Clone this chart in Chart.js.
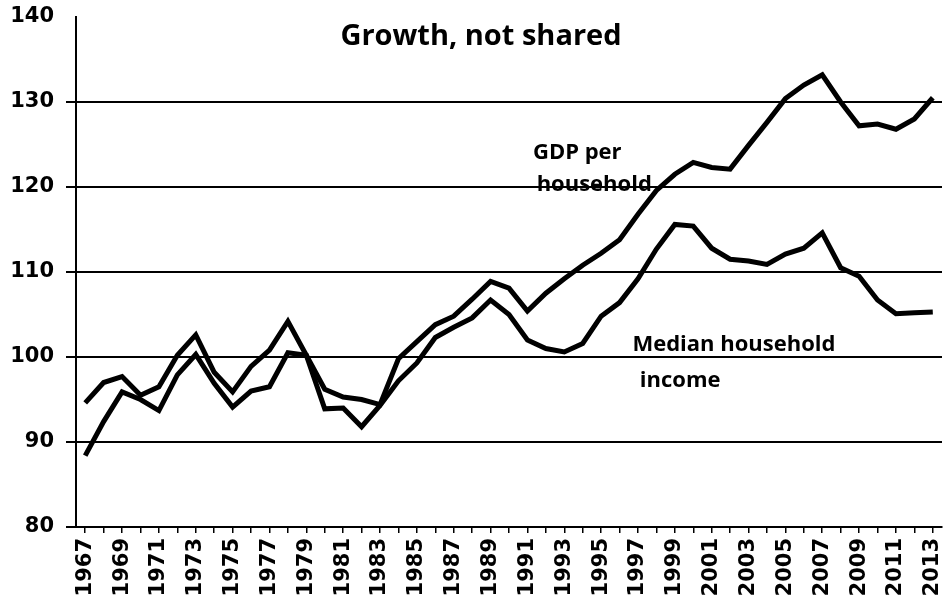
<!DOCTYPE html>
<html>
<head>
<meta charset="utf-8">
<script src="https://cdn.jsdelivr.net/npm/chart.js@4"></script>
<style>
  html, body { margin: 0; padding: 0; background: #ffffff; overflow: hidden; }
  #wrap { position: absolute; left: 0; top: 0; width: 943px; height: 606px; }
</style>
</head>
<body>
<div id="wrap"><canvas id="c" width="943" height="606"></canvas></div>
<script>
const years = [];
for (let y = 1967; y <= 2013; y++) years.push(String(y));

const gdpPerHousehold = [
  94.6, 97.0, 97.7, 95.5, 96.5, 100.2, 102.6, 98.2, 95.9, 98.9,
  100.8, 104.2, 100.2, 96.2, 95.3, 95.0, 94.4, 99.8, 101.8, 103.8,
  104.8, 106.8, 108.9, 108.1, 105.4, 107.5, 109.2, 110.8, 112.2, 113.8,
  116.8, 119.6, 121.5, 122.9, 122.3, 122.1, 124.9, 127.6, 130.4, 132.0,
  133.2, 130.0, 127.2, 127.4, 126.8, 128.0, 130.5
];

const medianHouseholdIncome = [
  88.4, 92.4, 95.9, 95.0, 93.7, 97.9, 100.3, 96.9, 94.1, 96.0,
  96.5, 100.5, 100.2, 93.9, 94.0, 91.8, 94.3, 97.2, 99.3, 102.3,
  103.5, 104.6, 106.7, 105.0, 102.0, 101.0, 100.6, 101.6, 104.8, 106.4,
  109.2, 112.7, 115.6, 115.4, 112.8, 111.5, 111.3, 110.9, 112.1, 112.8,
  114.6, 110.5, 109.5, 106.7, 105.1, 105.2, 105.3
];

const yTicks = [80, 90, 100, 110, 120, 130, 140];
const titleText = "Growth, not shared";
const gdpLabel = ["GDP per", "household"];
const medianLabel = ["Median household", "income"];

const textPlugin = {
  id: 'texts',
  afterDraw(chart) {
    const ctx = chart.ctx;
    const xs = chart.scales.x, ys = chart.scales.y;
    ctx.save();
    ctx.fillStyle = '#000';
    ctx.textBaseline = 'middle';
    ctx.textAlign = 'center';
    ctx.font = 'bold 29px "Open Sans"';
    ctx.fillText(titleText, 481, 37);
    ctx.textAlign = 'left';
    ctx.font = 'bold 22px "Open Sans"';
    ctx.fillText(gdpLabel[0], xs.getPixelForValue(24.3), ys.getPixelForValue(124.0));
    ctx.fillText(gdpLabel[1], xs.getPixelForValue(24.5), ys.getPixelForValue(120.3));
    ctx.fillText(medianLabel[0], xs.getPixelForValue(29.7), ys.getPixelForValue(101.4));
    ctx.fillText(medianLabel[1], xs.getPixelForValue(30.1), ys.getPixelForValue(97.2));
    ctx.restore();
  }
};

new Chart(document.getElementById('c'), {
  type: 'line',
  data: {
    labels: years,
    datasets: [
      { label: 'GDP per household', data: gdpPerHousehold, borderColor: '#000', borderWidth: 5, pointRadius: 0, tension: 0, fill: false },
      { label: 'Median household income', data: medianHouseholdIncome, borderColor: '#000', borderWidth: 5, pointRadius: 0, tension: 0, fill: false }
    ]
  },
  options: {
    responsive: false,
    animation: false,
    events: [],
    layout: { padding: { top: 17, right: 1, left: 0, bottom: 0 } },
    plugins: { legend: { display: false }, title: { display: false }, tooltip: { enabled: false } },
    scales: {
      x: {
        offset: true,
        afterFit(s) { s.height = 79; s.paddingLeft = 0; s.paddingRight = 0; },
        border: { display: true, color: '#000', width: 2 },
        grid: { drawOnChartArea: false, drawTicks: true, tickLength: 6, color: '#000', lineWidth: 1.5 },
        ticks: {
          autoSkip: false, minRotation: 90, maxRotation: 90, padding: 5, color: '#000',
          font: { family: 'DejaVu Sans', weight: 'bold', size: 21 },
          callback(v, i) { return i % 2 === 0 ? years[i] : ''; }
        }
      },
      y: {
        min: 80, max: 140,
        afterFit(s) { s.width = 76; s.paddingTop = 0; s.paddingBottom = 0; },
        afterBuildTicks(s) { s.ticks = yTicks.map(v => ({ value: v })); },
        border: { display: true, color: '#000', width: 2 },
        grid: {
          color: (c) => (c.tick && c.tick.value === 140) ? 'rgba(0,0,0,0)' : '#000',
          lineWidth: 2, tickLength: 10, drawTicks: true
        },
        ticks: { color: '#000', padding: 12, font: { family: 'DejaVu Sans', weight: 'bold', size: 21 } }
      }
    }
  },
  plugins: [textPlugin]
});
</script>
</body>
</html>
